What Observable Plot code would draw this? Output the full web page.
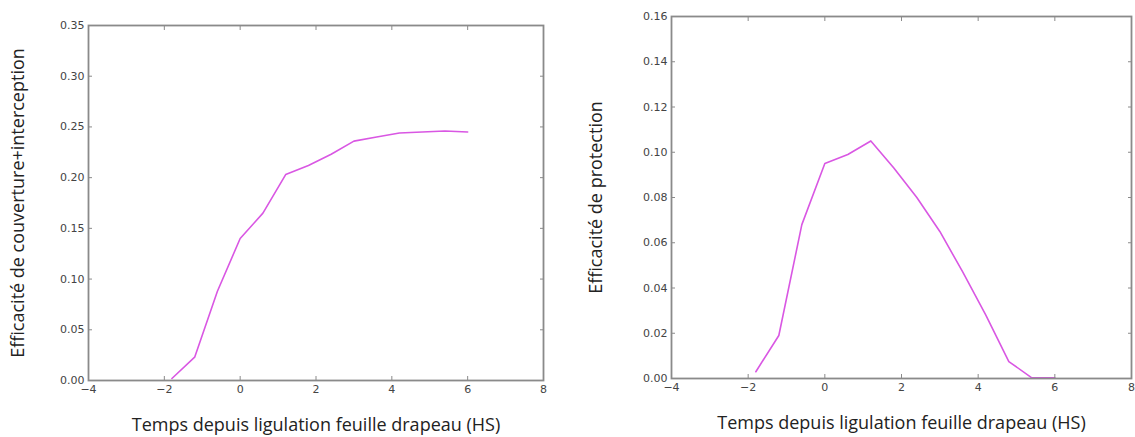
<!DOCTYPE html>
<html>
<head>
<meta charset="utf-8">
<script src="https://cdn.jsdelivr.net/npm/d3@7"></script>
<script src="https://cdn.jsdelivr.net/npm/@observablehq/plot@0.6"></script>
<style>
  html, body { margin: 0; padding: 0; background: #fff; }
  #wrap { position: relative; width: 1135px; height: 437px; overflow: hidden; }
  #left { position: absolute; left: 0; top: 0; }
  #right { position: absolute; left: 568px; top: 0; }
</style>
</head>
<body>
<div id="wrap"><div id="left"></div><div id="right"></div></div>
<script>
// Time since flag leaf ligulation (HS)
const times = [-1.8, -1.2, -0.6, 0, 0.6, 1.2, 1.8, 2.4, 3.0, 3.6, 4.2, 4.8, 5.4, 6.0];
// Left panel: coverage + interception efficiency
const coverage = [0.002, 0.023, 0.088, 0.140, 0.165, 0.203, 0.212, 0.223, 0.236, 0.240, 0.244, 0.245, 0.246, 0.245];
// Right panel: protection efficiency
const protection = [0.003, 0.019, 0.068, 0.095, 0.099, 0.105, 0.093, 0.080, 0.065, 0.047, 0.028, 0.0075, 0.0003, 0.0003];

const xTicks = [-4, -2, 0, 2, 4, 6, 8];
const yTicksLeft = [0, 0.05, 0.10, 0.15, 0.20, 0.25, 0.30, 0.35];
const yTicksRight = [0, 0.02, 0.04, 0.06, 0.08, 0.10, 0.12, 0.14, 0.16];
const xLabel = "Temps depuis ligulation feuille drapeau (HS)";
const yLabelLeft = "Efficacité de couverture+interception";
const yLabelRight = "Efficacité de protection";

const lineColor = "#d957e3";
const frameColor = "#8a8a8a";
const tickColor = "#444";
const labelFont = "'Open Sans', 'DejaVu Sans', sans-serif";

function panel({values, yDomain, yTicks, yLabel, width, height, margins, yLabelDx, xLabelDy}) {
  const data = times.map((t, i) => ({t, v: values[i]}));
  return Plot.plot({
    width, height,
    marginLeft: margins[0], marginRight: margins[1], marginTop: margins[2], marginBottom: margins[3],
    style: {fontFamily: "'DejaVu Sans', sans-serif", fontSize: "11px", color: tickColor, background: "#fff"},
    x: {domain: [-4, 8]},
    y: {domain: yDomain},
    marks: [
      Plot.line(data, {x: "t", y: "v", stroke: lineColor, strokeWidth: 1.6}),
      Plot.frame({stroke: frameColor, strokeWidth: 1.8}),
      Plot.axisX({anchor: "bottom", ticks: xTicks, tickSize: -4, tickPadding: 9, stroke: frameColor, label: null, tickFormat: d3.format("d"), fill: tickColor}),
      Plot.axisX({anchor: "top", ticks: xTicks, tickSize: -4, stroke: frameColor, label: null, tickFormat: () => ""}),
      Plot.axisY({anchor: "left", ticks: yTicks, tickSize: -4, tickPadding: 8, stroke: frameColor, label: null, tickFormat: d3.format(".2f"), fill: tickColor}),
      Plot.axisY({anchor: "right", ticks: yTicks, tickSize: -4, stroke: frameColor, label: null, tickFormat: () => ""}),
      Plot.text([yLabel], {frameAnchor: "left", rotate: -90, dx: yLabelDx, text: d => d, textAnchor: "middle", lineAnchor: "middle", fontSize: 18, fill: "#222", fontFamily: labelFont}),
      Plot.text([xLabel], {frameAnchor: "bottom", dy: xLabelDy, text: d => d, textAnchor: "middle", lineAnchor: "middle", fontSize: 18, fill: "#222", fontFamily: labelFont})
    ]
  });
}

document.getElementById("left").appendChild(panel({
  values: coverage, yDomain: [0, 0.35], yTicks: yTicksLeft, yLabel: yLabelLeft,
  width: 560, height: 437, margins: [88, 17, 25, 57], yLabelDx: -70, xLabelDy: 45
}));
document.getElementById("right").appendChild(panel({
  values: protection, yDomain: [0, 0.16], yTicks: yTicksRight, yLabel: yLabelRight,
  width: 567, height: 437, margins: [103, 4, 16, 59], yLabelDx: -75, xLabelDy: 45
}));
</script>
</body>
</html>
